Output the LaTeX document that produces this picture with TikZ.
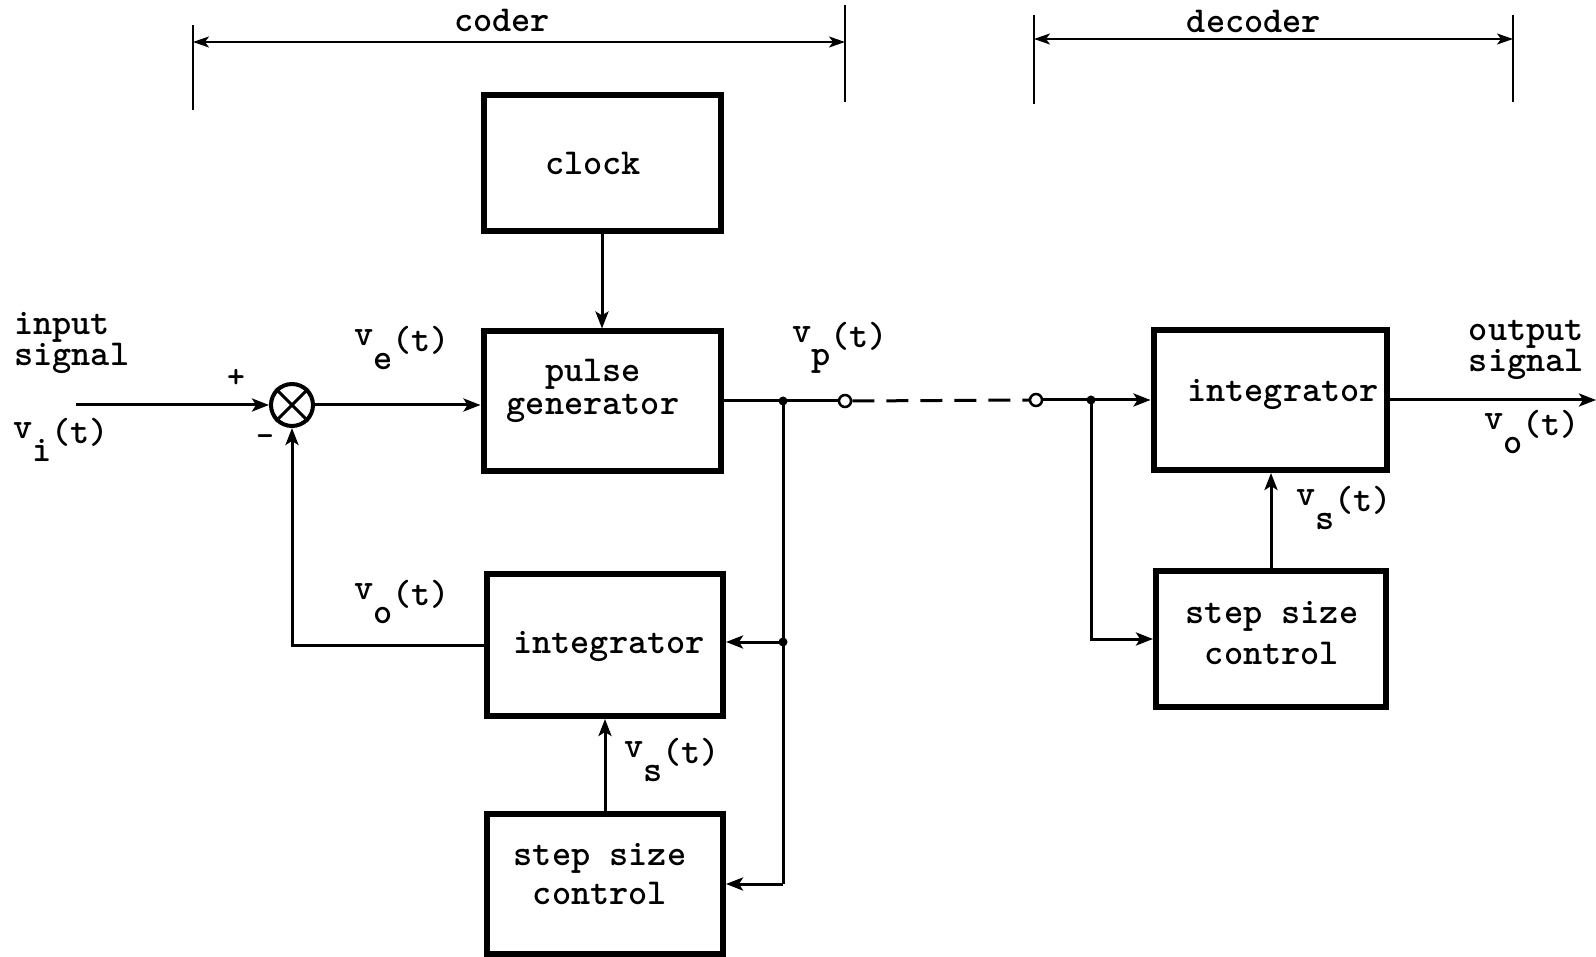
\documentclass[tikz,border=0pt]{standalone}
\usetikzlibrary{arrows.meta}
\newcommand\sigl[1]{\raisebox{0.15em}{v}\raisebox{-0.5em}{#1}(t)}
\begin{document}
\begin{tikzpicture}[x=1pt,y=-1pt,
  every node/.style={font=\fontsize{36.5}{33}\selectfont\ttfamily\bfseries},
  blk/.style={draw, line width=6pt, inner sep=0pt},
  txt/.style={inner sep=0pt, align=center},
  conn/.style={line width=3pt, -{Stealth[length=17pt,width=13pt,inset=4pt]}},
  wire/.style={line width=3pt},
  dim/.style={line width=2pt, {Stealth[length=16pt,width=11pt,inset=4pt]}-{Stealth[length=16pt,width=11pt,inset=4pt]}},
  tick/.style={line width=2pt},
  dot/.style={circle, fill, inner sep=0pt, minimum size=9pt},
  ocirc/.style={circle, draw, line width=2.5pt, fill=white, inner sep=0pt, minimum size=12pt},
  lbl/.style={inner sep=0pt}]
\useasboundingbox (0,0) rectangle (1596,957);

% blocks
\node[blk, minimum width=237pt, minimum height=136pt] (clock) at (602,163) {};
\node[blk, minimum width=237pt, minimum height=139pt] (pulse) at (602,401) {};
\node[blk, minimum width=236pt, minimum height=142pt] (int1) at (605,645) {};
\node[blk, minimum width=236pt, minimum height=140pt] (ssc1) at (605,884) {};
\node[blk, minimum width=233pt, minimum height=140pt] (int2) at (1270,400) {};
\node[blk, minimum width=230pt, minimum height=136pt] (ssc2) at (1271,639) {};

% block texts
\node[txt] (clocktxt) at (593,163) {clock};
\node[txt, font=\fontsize{36.5}{33}\selectfont\ttfamily\bfseries] (pulsetxt) at (593,391) {pulse\\generator};
\node[txt] (int1txt) at (609,647) {integrator};
\node[txt, font=\fontsize{36.5}{39}\selectfont\ttfamily\bfseries] (ssc1txt) at (600,874) {step size\\control};
\node[txt] (int2txt) at (1283,395) {integrator};
\node[txt, font=\fontsize{36.5}{41}\selectfont\ttfamily\bfseries] (ssc2txt) at (1272,633) {step size\\control};

% summing junction
\node[circle, draw, line width=4pt, minimum size=42pt, inner sep=0pt] (sum) at (292,405) {};
\draw[line width=3pt] (sum.north west) -- (sum.south east) (sum.north east) -- (sum.south west);

% coder connections
\coordinate (in) at (76,405);
\draw[conn] (in) -- (sum.west);
\draw[conn] (sum.east) -- (sum.east -| pulse.west);
\draw[conn] (clock.south) -- (pulse.north);
\coordinate (j1) at (783,401);
\coordinate (j2) at (783,642);
\coordinate (j3) at (783,884);
\node[ocirc] (o1) at (845,401) {};
\draw[wire] (pulse.east |- j1) -- (j1) -- (o1.west);
\draw[wire] (j1) -- (j3);
\draw[conn] (j2) -- (j2 -| int1.east);
\draw[conn] (j3) -- (j3 -| ssc1.east);
\node[dot] at (j1) {};
\node[dot] at (j2) {};
\draw[conn] (int1.west) -- (int1.west -| sum.south) -- (sum.south);
\draw[conn] (ssc1.north) -- (int1.south);

% channel
\node[ocirc] (o2) at (1036,400) {};
\draw[line width=3pt, dash pattern=on 22pt off 12pt] (o1.east) -- (o2.west);

% decoder connections
\coordinate (j4) at (1091,400);
\draw[wire] (o2.east) -- (j4);
\draw[conn] (j4) -- (int2.west);
\draw[conn] (j4) -- (j4 |- ssc2.west) -- (ssc2.west);
\node[dot] at (j4) {};
\draw[conn] (ssc2.north) -- (ssc2.north |- int2.south);
\coordinate (out) at (1596,400);
\draw[conn] (int2.east) -- (out);

% dimension brackets
\coordinate (c1t) at (193,25); \coordinate (c1b) at (193,110);
\coordinate (c2t) at (845,5);  \coordinate (c2b) at (845,102);
\coordinate (d1t) at (1034,15); \coordinate (d1b) at (1034,104);
\coordinate (d2t) at (1513,15); \coordinate (d2b) at (1513,102);
\draw[tick] (c1t) -- (c1b);
\draw[tick] (c2t) -- (c2b);
\draw[tick] (d1t) -- (d1b);
\draw[tick] (d2t) -- (d2b);
\coordinate (c1m) at (193,42); \coordinate (c2m) at (845,42);
\coordinate (d1m) at (1034,39); \coordinate (d2m) at (1513,39);
\draw[dim] (c1m) -- (c2m);
\draw[dim] (d1m) -- (d2m);
\node[lbl] (coder) at (502,20) {coder};
\node[lbl] (decoder) at (1254,21) {decoder};

% labels
\node[lbl, anchor=west, align=left, font=\fontsize{36.5}{26}\selectfont\ttfamily\bfseries] (insig) at (14,343) {input\\signal};
\node[lbl] (vi) at (61,440) {\sigl{i}};
\node[lbl, font=\fontsize{34}{34}\selectfont\ttfamily\bfseries] (plus) at (236,378) {+};
\node[lbl, font=\fontsize{34}{34}\selectfont\ttfamily\bfseries] (minus) at (265,441) {-};
\node[lbl] (ve) at (402,348) {\sigl{e}};
\node[lbl] (vp) at (840,348) {\sigl{p}};
\node[lbl] (vo1) at (402,602) {\sigl{o}};
\node[lbl] (vs1) at (672,760) {\sigl{s}};
\node[lbl] (vs2) at (1344,508) {\sigl{s}};
\node[lbl, anchor=east, align=left, font=\fontsize{36.5}{30}\selectfont\ttfamily\bfseries] (outsig) at (1584,350) {output\\signal};
\node[lbl] (vo2) at (1532,432) {\sigl{o}};
\end{tikzpicture}
\end{document}
